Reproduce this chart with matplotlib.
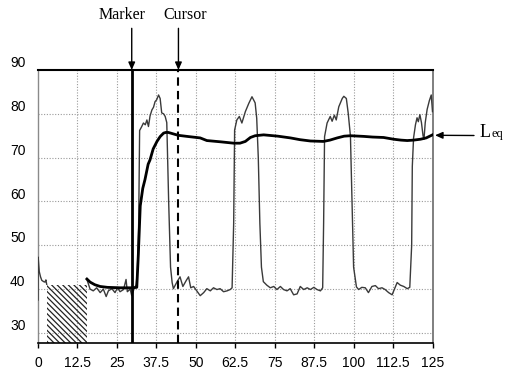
import numpy as np
import matplotlib
matplotlib.use("Agg")
import matplotlib.pyplot as plt
from matplotlib.transforms import ScaledTranslation

# ---- data ----
x_ticks = [0, 12.5, 25, 37.5, 50, 62.5, 75, 87.5, 100, 112.5, 125]
x_tick_labels = ["0", "12.5", "25", "37.5", "50", "62.5", "75", "87.5", "100", "112.5", "125"]
y_ticks = [30, 40, 50, 60, 70, 80, 90]

# instantaneous level trace (gap = hatched block, no data)
sig_t = [0, 0.05, 0.4, 0.8, 1.2, 1.8, 2.2, 2.5, 2.75, np.nan,
         15.45, 16.5, 17.5, 18.6, 19.7, 20.7, 21.6, 22.3, 23.4, 24.4, 25.2, 26.0,
         27.1, 27.9, 28.3, 29.2, 29.7, 30.4, 31.1, 31.5, 31.9,
         32.2, 32.8, 33.4, 34.0, 34.5, 35.0, 35.5, 36.1, 36.6, 37.1, 37.6, 38.2,
         38.7, 39.2, 39.8, 40.3, 40.8, 41.4, 42.0, 42.5,
         42.9, 44.0, 45.0, 45.9, 47.0, 47.7, 48.4, 49.3, 50.3, 51.4, 52.5, 53.5,
         54.6, 55.6, 56.7, 57.7, 58.8, 59.9, 60.9, 61.5,
         62.0, 62.3, 63.0, 63.8, 64.6, 65.7, 66.8, 67.8, 68.8, 69.3, 69.8, 70.3,
         70.8, 71.4,
         72.5, 73.6, 74.7, 75.7, 76.8, 77.8, 78.9, 79.9, 81.0, 82.1, 83.1, 84.2,
         85.3, 86.3, 87.4, 88.4, 89.5, 90.2,
         90.5, 90.8, 91.6, 92.6, 93.2, 93.9, 94.5, 95.3, 96.4, 96.9, 97.7, 98.3,
         99.0, 99.5, 100.0, 100.9,
         101.6, 102.6, 103.7, 104.7, 105.8, 106.9, 107.9, 109.0, 110.0, 111.1,
         112.2, 112.9, 113.8, 114.8, 115.9, 117.0, 117.8,
         118.4, 118.6, 119.0, 119.6, 120.1, 120.5, 121.0, 121.5, 122.0, 122.3,
         122.7, 123.3, 124.0, 124.6, 125.0]
sig_db = [37.5, 47.3, 44.0, 42.8, 42.0, 41.7, 41.6, 42.1, 41.1, np.nan,
          42.3, 40.0, 39.6, 40.3, 39.2, 40.0, 38.3, 39.6, 40.1, 39.2, 40.3, 39.4,
          39.9, 42.2, 39.4, 40.0, 38.5, 40.0, 41.0, 43.9, 55.0,
          76.2, 77.0, 77.9, 77.5, 78.6, 77.1, 79.5, 80.9, 81.5, 82.8, 83.2, 84.3,
          83.5, 80.2, 80.0, 79.4, 78.0, 60.0, 45.0, 41.5,
          40.1, 41.6, 42.8, 40.6, 42.0, 42.8, 40.3, 40.6, 39.6, 38.5, 39.2, 40.1,
          39.6, 40.3, 39.9, 40.1, 39.4, 39.6, 39.9, 40.3,
          55.0, 76.3, 78.6, 79.4, 77.9, 80.5, 82.4, 83.9, 82.5, 79.0, 70.0, 55.0,
          45.0, 41.7,
          40.9, 40.3, 40.6, 39.9, 40.6, 39.9, 39.6, 40.1, 38.7, 38.9, 40.6, 39.9,
          40.3, 39.9, 40.4, 39.9, 39.6, 40.3,
          55.0, 74.8, 77.9, 79.4, 78.3, 79.7, 78.6, 81.6, 83.5, 84.0, 83.5, 80.1,
          74.9, 60.0, 45.0, 40.5,
          39.9, 40.4, 40.3, 39.2, 40.6, 40.8, 40.1, 40.3, 39.9, 39.2,
          38.7, 39.9, 41.5, 40.9, 40.6, 40.1, 40.4,
          50.0, 68.0, 74.5, 77.5, 79.1, 78.2, 79.8, 78.0, 75.0, 74.2,
          78.0, 81.0, 83.0, 84.3, 80.5]

# running Leq
leq_t = [15.5, 16.5, 18.0, 19.7, 22.0, 26.0, 30.0, 31.3, 31.8, 32.4, 33.2, 33.9,
         34.9, 35.5, 36.5, 37.7, 38.7, 39.8, 40.5, 41.3, 44.4, 47.2, 51.4, 53.5,
         58.0, 62.0, 64.0, 65.7, 67.3, 68.8, 71.5, 76.0, 80.0, 83.0, 86.3, 90.4,
         92.5, 94.8, 97.0, 99.0, 103.2, 106.0, 109.5, 112.7, 115.0, 117.0, 119.0,
         121.2, 123.0, 125.0]
leq_db = [42.3, 41.6, 41.0, 40.6, 40.4, 40.3, 40.3, 40.4, 48.0, 59.0, 63.0, 65.0,
          68.5, 69.5, 72.0, 73.7, 74.8, 75.6, 75.75, 75.75, 75.1, 74.85, 74.5, 73.9,
          73.6, 73.3, 73.3, 73.7, 74.6, 75.0, 75.2, 74.9, 74.5, 74.1, 73.8, 73.7,
          74.0, 74.5, 74.9, 75.0, 74.85, 74.7, 74.6, 74.2, 74.0, 73.9, 74.0,
          74.2, 74.5, 75.2]

marker_t = 29.7
cursor_t = 44.5
hatch_t = [2.75, 15.45]
hatch_top = 41.0
leq_arrow_db = 75.1

# ---- figure ----
plt.rcParams["hatch.linewidth"] = 0.9
W, H = 517, 379
fig = plt.figure(figsize=(W / 100, H / 100), dpi=100)
ax = fig.add_axes([38 / W, 1 - 343 / H, (432.5 - 38) / W, (343 - 70) / H])
ax.set_xlim(0, 125)
ax.set_ylim(27.7, 90)

# grid
for gx in x_ticks[1:-1]:
    ax.axvline(gx, color="#9a9a9a", linestyle=(0, (1, 1.5)), linewidth=0.8, zorder=1)
for gy in y_ticks[:-1]:
    ax.axhline(gy, color="#9a9a9a", linestyle=(0, (1, 1.5)), linewidth=0.8, zorder=1)

# hatched block
ax.fill_between(hatch_t, [ax.get_ylim()[0]] * 2, [hatch_top] * 2,
                facecolor="none", edgecolor="#222222", hatch="\\" * 6,
                linewidth=0, zorder=2)

ax.plot(sig_t, sig_db, color="#3a3a3a", linewidth=1.0, zorder=3)
ax.plot(leq_t, leq_db, color="black", linewidth=2.0, zorder=4)

ax.axvline(marker_t, color="black", linewidth=2.0, zorder=5)
ax.axvline(cursor_t, color="black", linewidth=1.5, linestyle=(0, (4, 2.5)), zorder=5)

# spines
for side in ["top", "bottom"]:
    ax.spines[side].set_color("black")
ax.spines["top"].set_linewidth(1.5)
ax.spines["bottom"].set_linewidth(1.2)
ax.spines["left"].set_color("#8a8a8a")
ax.spines["right"].set_color("#6a6a6a")
ax.spines["left"].set_linewidth(1.0)
ax.spines["right"].set_linewidth(1.2)

tick_font = dict(family="Liberation Sans", size=10)
ax.set_xticks(x_ticks)
ax.set_xticklabels(x_tick_labels, **tick_font)
ax.tick_params(axis="x", direction="out", length=3.5, width=1, pad=6, color="black")
ax.set_yticks(y_ticks)
ax.set_yticklabels([str(v) for v in y_ticks], **tick_font)
ax.tick_params(axis="y", length=0, pad=9)
shift = ScaledTranslation(0, 6 / 72, fig.dpi_scale_trans)
for lbl in ax.get_yticklabels():
    lbl.set_transform(lbl.get_transform() + shift)

# annotations
serif = dict(family="Liberation Serif", size=11.5)
arrow = dict(arrowstyle="-|>,head_length=0.45,head_width=0.2", color="black",
             linewidth=1.0, shrinkA=0, shrinkB=0)
ax.annotate("", xy=(marker_t, 90), xytext=(0, 30), textcoords="offset points",
            arrowprops=arrow, annotation_clip=False)
ax.annotate("", xy=(cursor_t, 90), xytext=(0, 30), textcoords="offset points",
            arrowprops=arrow, annotation_clip=False)
fig.text(122.5 / W, 1 - 15 / H, "Marker", ha="center", va="center", **serif)
fig.text(185.5 / W, 1 - 15 / H, "Cursor", ha="center", va="center", **serif)

ax.annotate("", xy=(125.8, leq_arrow_db), xytext=(474, H - 135.5),
            textcoords="figure pixels", arrowprops=arrow, annotation_clip=False)
fig.text(480 / W, 1 - 137 / H, "L", ha="left", va="baseline",
         family="Liberation Serif", size=13)
fig.text(491 / W, 1 - 137 / H, "eq", ha="left", va="baseline",
         family="Liberation Serif", size=9)

fig.savefig("out.png", dpi=100)
